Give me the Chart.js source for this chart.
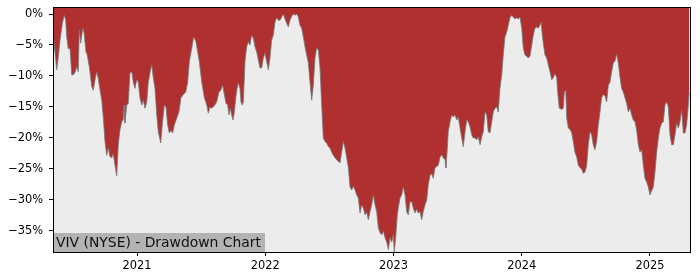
<!DOCTYPE html>
<html>
<head>
<meta charset="utf-8">
<script src="https://cdn.jsdelivr.net/npm/chart.js@4/dist/chart.umd.min.js"></script>
<style>
html,body{margin:0;padding:0;background:#fff;}
#wrap{width:700px;height:280px;position:relative;}
</style>
</head>
<body>
<div id="wrap"><canvas id="c" width="700" height="280"></canvas></div>
<script>
// Dates as decimal years
const dates = [
2020.347,2020.374,2020.386,2020.400,2020.418,2020.433,2020.444,2020.452,2020.464,2020.478,
2020.491,2020.503,2020.517,2020.530,2020.542,2020.550,2020.561,2020.577,2020.587,2020.602,
2020.612,2020.628,2020.647,2020.659,2020.673,2020.686,2020.698,2020.712,2020.725,2020.737,
2020.750,2020.764,2020.776,2020.789,2020.803,2020.815,2020.828,2020.842,2020.854,2020.867,
2020.881,2020.893,2020.899,2020.906,2020.920,2020.932,2020.945,2020.959,2020.971,2020.984,
2020.998,2021.010,2021.023,2021.037,2021.049,2021.062,2021.076,2021.088,2021.101,2021.115,
2021.127,2021.140,2021.154,2021.166,2021.185,2021.197,2021.213,2021.226,2021.239,2021.252,
2021.265,2021.278,2021.291,2021.310,2021.327,2021.343,2021.361,2021.380,2021.395,2021.408,
2021.427,2021.442,2021.458,2021.473,2021.486,2021.505,2021.525,2021.544,2021.556,2021.569,
2021.582,2021.603,2021.621,2021.639,2021.653,2021.668,2021.681,2021.694,2021.707,2021.717,
2021.727,2021.738,2021.749,2021.759,2021.770,2021.780,2021.790,2021.803,2021.811,2021.821,
2021.829,2021.842,2021.855,2021.868,2021.881,2021.894,2021.907,2021.920,2021.933,2021.946,
2021.959,2021.972,2021.985,2021.998,2022.011,2022.024,2022.037,2022.050,2022.063,2022.076,
2022.089,2022.102,2022.115,2022.128,2022.141,2022.154,2022.167,2022.180,2022.193,2022.206,
2022.219,2022.232,2022.245,2022.258,2022.271,2022.284,2022.297,2022.310,2022.323,2022.336,
2022.349,2022.362,2022.375,2022.388,2022.401,2022.414,2022.427,2022.440,2022.453,2022.466,
2022.479,2022.492,2022.505,2022.518,2022.531,2022.544,2022.557,2022.570,2022.583,2022.596,
2022.609,2022.622,2022.635,2022.648,2022.661,2022.674,2022.687,2022.700,2022.713,2022.726,
2022.739,2022.752,2022.765,2022.778,2022.791,2022.804,2022.817,2022.830,2022.843,2022.856,
2022.869,2022.882,2022.895,2022.908,2022.921,2022.934,2022.947,2022.960,2022.973,2022.986,
2022.999,2023.006,2023.017,2023.030,2023.037,2023.051,2023.064,2023.076,2023.090,2023.103,
2023.115,2023.129,2023.142,2023.154,2023.168,2023.181,2023.193,2023.207,2023.220,2023.232,
2023.246,2023.259,2023.271,2023.285,2023.298,2023.310,2023.324,2023.337,2023.349,2023.363,
2023.376,2023.388,2023.402,2023.409,2023.420,2023.427,2023.441,2023.454,2023.466,2023.480,
2023.493,2023.505,2023.519,2023.532,2023.544,2023.558,2023.571,2023.583,2023.597,2023.610,
2023.622,2023.636,2023.649,2023.661,2023.675,2023.688,2023.700,2023.714,2023.727,2023.739,
2023.752,2023.766,2023.778,2023.791,2023.805,2023.817,2023.830,2023.844,2023.856,2023.869,
2023.883,2023.895,2023.908,2023.922,2023.934,2023.947,2023.961,2023.973,2023.986,2024.000,
2024.012,2024.025,2024.039,2024.051,2024.064,2024.078,2024.090,2024.103,2024.117,2024.129,
2024.142,2024.150,2024.163,2024.181,2024.195,2024.207,2024.220,2024.234,2024.246,2024.259,
2024.273,2024.280,2024.293,2024.312,2024.324,2024.332,2024.343,2024.351,2024.363,2024.376,
2024.390,2024.402,2024.415,2024.429,2024.441,2024.454,2024.467,2024.480,2024.493,2024.506,
2024.519,2024.532,2024.545,2024.558,2024.571,2024.584,2024.597,2024.610,2024.623,2024.636,
2024.649,2024.662,2024.675,2024.688,2024.701,2024.714,2024.727,2024.740,2024.753,2024.766,
2024.779,2024.792,2024.805,2024.818,2024.831,2024.844,2024.857,2024.870,2024.883,2024.896,
2024.909,2024.922,2024.935,2024.948,2024.961,2024.974,2024.987,2025.000,2025.013,2025.026,
2025.039,2025.052,2025.065,2025.078,2025.091,2025.104,2025.117,2025.130,2025.143,2025.156,
2025.169,2025.182,2025.195,2025.208,2025.221,2025.234,2025.247,2025.260,2025.273,2025.286,
2025.299,2025.306
];
// Drawdown in percent
const drawdown = [
-3.5,-9.0,-7.0,-4.2,-1.5,-0.2,-1.0,-3.7,-5.6,-5.6,
-9.8,-9.8,-9.4,-8.5,-9.3,-2.6,-4.7,-2.3,-3.0,-6.1,
-6.6,-8.5,-11.7,-12.3,-10.6,-9.3,-10.4,-12.3,-13.9,-16.6,
-20.5,-22.8,-21.6,-23.0,-23.2,-22.5,-24.4,-26.1,-21.1,-18.7,
-17.4,-17.0,-14.7,-17.6,-14.7,-14.4,-9.5,-9.3,-11.0,-12.0,
-10.6,-11.0,-13.5,-14.7,-13.9,-15.2,-14.2,-11.0,-9.5,-8.2,
-10.3,-12.0,-16.3,-19.0,-20.8,-17.9,-14.7,-15.0,-17.9,-19.2,
-18.8,-19.2,-17.9,-16.8,-15.8,-13.5,-13.0,-12.6,-11.0,-7.7,
-5.5,-3.7,-4.3,-6.1,-7.7,-11.0,-13.5,-14.7,-16.0,-15.0,
-15.2,-14.8,-14.2,-12.6,-12.3,-11.5,-13.0,-14.4,-14.7,-16.3,
-15.2,-16.3,-17.1,-15.8,-13.5,-12.0,-11.1,-12.0,-14.2,-14.7,
-14.2,-7.7,-5.3,-4.5,-5.0,-3.4,-3.9,-5.3,-6.1,-7.4,
-8.7,-8.7,-7.1,-6.3,-7.7,-9.0,-7.1,-4.2,-3.4,-1.3,
-0.6,-1.0,-1.0,-0.5,0,-0.8,-1.5,-2.1,-1.0,-0.4,
0,-0.2,0,-0.5,-1.8,-2.3,-3.7,-5.3,-6.6,-7.9,
-11.0,-13.9,-11.5,-7.1,-5.5,-5.8,-8.7,-14.7,-20.0,-20.6,
-20.8,-21.4,-21.6,-22.3,-22.8,-23.2,-23.5,-23.8,-24.0,-22.3,
-20.6,-21.6,-23.2,-24.8,-27.9,-28.4,-27.8,-28.4,-29.2,-29.7,
-32.1,-30.8,-31.3,-32.4,-32.0,-33.2,-31.9,-30.8,-29.2,-30.8,
-31.9,-34.5,-35.3,-35.6,-35.0,-36.1,-36.8,-38.0,-36.1,-36.8,
-35.6,-38.4,-36.1,-32.4,-31.3,-29.7,-29.2,-27.9,-29.2,-31.9,
-32.4,-30.3,-30.3,-31.3,-32.1,-31.5,-32.1,-31.9,-33.2,-31.9,
-30.8,-30.0,-27.6,-26.0,-25.8,-26.5,-24.8,-24.6,-24.4,-23.1,
-22.7,-23.2,-23.5,-24.8,-21.6,-19.0,-17.4,-16.3,-16.6,-16.3,
-17.1,-16.6,-18.4,-20.0,-21.4,-19.0,-17.1,-17.4,-18.2,-19.5,
-20.0,-20.0,-20.3,-19.8,-21.1,-19.8,-19.0,-15.8,-16.3,-19.0,
-19.2,-17.4,-15.8,-15.2,-15.0,-15.8,-12.0,-9.8,-6.6,-3.7,
-2.9,-1.8,-0.6,-0.2,-0.5,-0.8,-0.6,-0.8,-0.5,-2.3,
-5.5,-6.6,-6.8,-7.1,-6.8,-5.0,-3.4,-2.3,-2.1,-2.3,
-1.8,-1.3,-3.9,-6.6,-7.1,-8.2,-9.3,-10.6,-10.3,-9.6,
-10.3,-12.6,-15.2,-15.4,-15.2,-12.6,-12.3,-16.8,-18.4,-18.6,
-19.2,-20.6,-22.3,-23.1,-24.4,-24.8,-25.0,-25.7,-25.5,-24.5,
-21.1,-19.0,-19.5,-21.1,-21.9,-20.6,-17.9,-15.8,-13.5,-13.0,
-13.2,-14.2,-11.5,-11.0,-9.3,-7.9,-7.6,-6.5,-7.9,-10.2,
-12.0,-12.6,-13.5,-14.4,-15.8,-15.2,-16.3,-17.1,-17.4,-18.7,
-21.1,-22.3,-21.9,-24.4,-26.5,-27.1,-27.9,-29.2,-28.5,-27.9,
-25.5,-22.3,-20.0,-18.4,-17.6,-17.4,-14.7,-14.2,-15.0,-19.5,
-21.1,-21.1,-19.5,-17.6,-18.4,-17.4,-15.5,-19.2,-19.2,-17.9,
-14.7,-12.6
];
const yearTicks = [2021, 2022, 2023, 2024, 2025];
const pctTicks = [0, -5, -10, -15, -20, -25, -30, -35];
const chartLabel = 'VIV (NYSE) - Drawdown Chart';

const points = dates.map((d, i) => ({x: d, y: drawdown[i]}));
const FONT = 'DejaVu Sans';

const framePlugin = {
  id: 'frame',
  beforeDatasetsDraw(chart) {
    const {ctx, chartArea: a} = chart;
    ctx.save();
    ctx.fillStyle = '#ececec';
    ctx.fillRect(a.left, a.top, a.right - a.left, a.bottom - a.top);
    ctx.restore();
  },
  afterDatasetsDraw(chart) {
    const {ctx, chartArea: a} = chart;
    ctx.save();
    // label box
    ctx.font = '13.9px "' + FONT + '"';
    const w = ctx.measureText(chartLabel).width;
    ctx.fillStyle = '#b3b3b3';
    ctx.fillRect(a.left, a.bottom - 19, w + 7, 19);
    ctx.fillStyle = '#111';
    ctx.textBaseline = 'alphabetic';
    ctx.fillText(chartLabel, a.left + 3, a.bottom - 5);
    // frame
    ctx.strokeStyle = '#000';
    ctx.lineWidth = 1;
    ctx.strokeRect(a.left + 0.5, a.top + 0.5, a.right - a.left, a.bottom - a.top);
    ctx.restore();
  }
};

new Chart(document.getElementById('c'), {
  type: 'line',
  data: {
    datasets: [{
      data: points,
      parsing: false,
      fill: 'end',
      backgroundColor: '#b03030',
      borderColor: 'rgba(120,120,120,0.8)',
      borderWidth: 1,
      pointRadius: 0,
      tension: 0
    }]
  },
  options: {
    responsive: false,
    animation: false,
    events: [],
    layout: {padding: {top: 7, right: 10, left: 0, bottom: 0}},
    plugins: {legend: {display: false}, tooltip: {enabled: false}},
    scales: {
      x: {
        type: 'linear',
        min: 2020.345,
        max: 2025.312,
        afterFit(s) { s.height = 28; s.paddingLeft = 0; s.paddingRight = 0; },
        afterBuildTicks(s) { s.ticks = yearTicks.map(v => ({value: v})); },
        grid: {drawOnChartArea: false, drawTicks: true, tickLength: 4, color: '#000'},
        border: {display: true, color: '#000'},
        ticks: {
          color: '#000', padding: 3, maxRotation: 0, autoSkip: false,
          font: {family: FONT, size: 11.4},
          callback: v => String(v)
        }
      },
      y: {
        type: 'linear',
        min: -38.4,
        max: 1.13,
        afterFit(s) { s.width = 53; s.paddingTop = 0; s.paddingBottom = 0; },
        afterBuildTicks(s) { s.ticks = pctTicks.map(v => ({value: v})); },
        grid: {drawOnChartArea: false, drawTicks: true, tickLength: 4, color: '#000'},
        border: {display: true, color: '#000'},
        ticks: {
          color: '#000', padding: 6, autoSkip: false,
          font: {family: FONT, size: 11.4},
          callback: v => (v < 0 ? '\u2212' + Math.abs(v) : String(v)) + '%'
        }
      }
    }
  },
  plugins: [framePlugin]
});
</script>
</body>
</html>
